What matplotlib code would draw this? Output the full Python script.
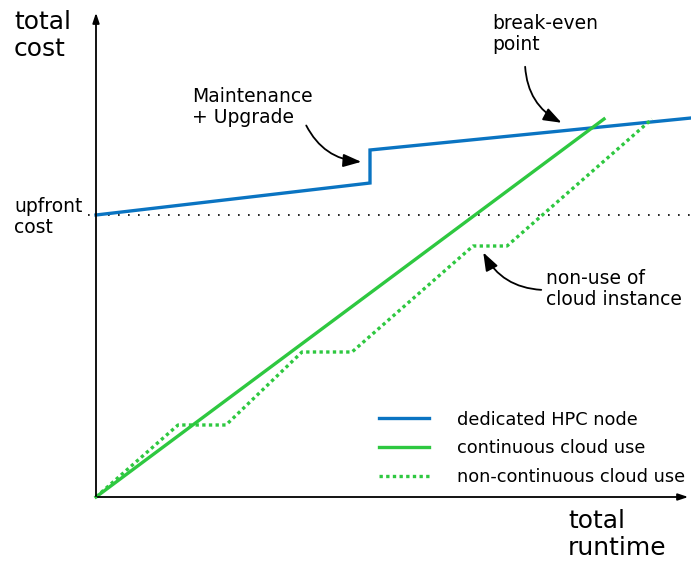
import matplotlib.pyplot as plt

# data in pixel-like units: origin at the axes corner
hpc_x = [0, 274, 274, 595]
hpc_y = [282, 314, 347, 379]

cont_x = [0, 508]
cont_y = [0, 378]

noncont_x = [0, 82, 130, 206, 256, 377, 411, 556]
noncont_y = [0, 72, 72, 145, 145, 251, 251, 378]

upfront = 282

blue = "#0a74c2"
green = "#2ec840"

fig = plt.figure(figsize=(6.91, 5.66), dpi=100)
ax = fig.add_axes([0, 0, 1, 1])
ax.set_xlim(-96, 595)
ax.set_ylim(-69, 497)
ax.axis("off")

# axes with arrows
ax.annotate("", xy=(0, 487), xytext=(0, -2),
            arrowprops=dict(arrowstyle="-|>,head_length=0.6,head_width=0.2", color="black", lw=1.3))
ax.annotate("", xy=(595, 0), xytext=(-1, 0),
            arrowprops=dict(arrowstyle="-|>,head_length=0.6,head_width=0.2", color="black", lw=1.3))

# upfront cost line
ax.plot([-8, 595], [upfront, upfront], color="black", lw=1.2, ls=(0, (1, 5)))

ax.plot(hpc_x, hpc_y, color=blue, lw=2.4, label="dedicated HPC node", solid_joinstyle="miter")
ax.plot(cont_x, cont_y, color=green, lw=2.4, label="continuous cloud use")
ax.plot(noncont_x, noncont_y, color=green, lw=2.4, ls=(0, (1, 1)), label="non-continuous cloud use")

ax.text(-82, 487, "total\ncost", fontsize=18, va="top", ha="left", linespacing=1.15)
ax.text(-82, 300, "upfront\ncost", fontsize=13.5, va="top", ha="left", linespacing=1.15)
ax.text(472, -12, "total\nruntime", fontsize=18, va="top", ha="left", linespacing=1.15)
ax.text(96, 410, "Maintenance\n+ Upgrade", fontsize=13.5, va="top", ha="left", linespacing=1.15)
ax.text(396, 483, "break-even\npoint", fontsize=13.5, va="top", ha="left", linespacing=1.15)
ax.text(450, 228, "non-use of\ncloud instance", fontsize=13.5, va="top", ha="left", linespacing=1.15)

arrow = dict(arrowstyle="-|>,head_length=1.1,head_width=0.4", color="black", lw=1.3)
ax.annotate("", xy=(268, 335), xytext=(209, 374),
            arrowprops=dict(connectionstyle="arc3,rad=0.3", **arrow))
ax.annotate("", xy=(468, 373), xytext=(429, 433),
            arrowprops=dict(connectionstyle="arc3,rad=0.3", **arrow))
ax.annotate("", xy=(386, 247), xytext=(448, 207),
            arrowprops=dict(connectionstyle="arc3,rad=-0.3", **arrow))

ax.legend(loc="lower left", bbox_to_anchor=(0.526, 0.113), frameon=False, fontsize=12.8,
          handlelength=2.8, handletextpad=1.55, labelspacing=0.6)

fig.savefig("out.png", dpi=100)
